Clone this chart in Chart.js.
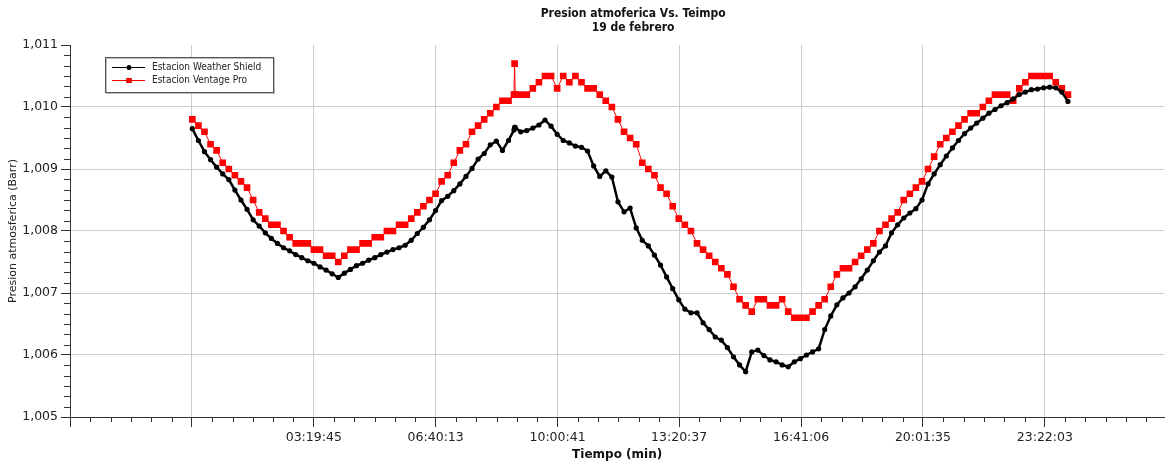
<!DOCTYPE html>
<html>
<head>
<meta charset="utf-8">
<title>Presion atmoferica Vs. Teimpo</title>
<script src="https://cdn.jsdelivr.net/npm/chart.js@4.4.1/dist/chart.umd.min.js"></script>
<style>
    html, body { margin: 0; padding: 0; background: #fff; }
    canvas { display: block; }
</style>
</head>
<body>
<canvas id="grafica" width="1169" height="467"></canvas>
<script>
// hora de cada lectura (cada 10 min, mas el pico de las 08:50)
var horas = [
    '00:00','00:10','00:20','00:30','00:40','00:50',
    '01:00','01:10','01:20','01:30','01:40','01:50',
    '02:00','02:10','02:20','02:30','02:40','02:50',
    '03:00','03:10','03:20','03:30','03:40','03:50',
    '04:00','04:10','04:20','04:30','04:40','04:50',
    '05:00','05:10','05:20','05:30','05:40','05:50',
    '06:00','06:10','06:20','06:30','06:40','06:50',
    '07:00','07:10','07:20','07:30','07:40','07:50',
    '08:00','08:10','08:20','08:30','08:40','08:49','08:50','08:51',
    '09:00','09:10','09:20','09:30','09:40','09:50',
    '10:00','10:10','10:20','10:30','10:40','10:50',
    '11:00','11:10','11:20','11:30','11:40','11:50',
    '12:00','12:10','12:20','12:30','12:40','12:50',
    '13:00','13:10','13:20','13:30','13:40','13:50',
    '14:00','14:10','14:20','14:30','14:40','14:50',
    '15:00','15:10','15:20','15:30','15:40','15:50',
    '16:00','16:10','16:20','16:30','16:40','16:50',
    '17:00','17:10','17:20','17:30','17:40','17:50',
    '18:00','18:10','18:20','18:30','18:40','18:50',
    '19:00','19:10','19:20','19:30','19:40','19:50',
    '20:00','20:10','20:20','20:30','20:40','20:50',
    '21:00','21:10','21:20','21:30','21:40','21:50',
    '22:00','22:10','22:20','22:30','22:40','22:50',
    '23:00','23:10','23:20','23:30','23:40','23:50',
    '24:00'
];

var weatherShield = [
    1.00965, 1.00946, 1.00928, 1.00915, 1.00903, 1.00892,
    1.00883, 1.00866, 1.00850, 1.00835, 1.00818, 1.00808,
    1.00797, 1.00788, 1.00780, 1.00773, 1.00768, 1.00762,
    1.00757, 1.00752, 1.00748, 1.00742, 1.00737, 1.00731,
    1.00725, 1.00732, 1.00738, 1.00744, 1.00748, 1.00753,
    1.00757, 1.00762, 1.00766, 1.00770, 1.00773, 1.00777,
    1.00785, 1.00796, 1.00806, 1.00818, 1.00833, 1.00849,
    1.00856, 1.00865, 1.00876, 1.00888, 1.00901, 1.00916,
    1.00925, 1.00939, 1.00945, 1.00930, 1.00946, 1.00963, 1.00967, 1.00967,
    1.00960, 1.00962, 1.00966, 1.00971, 1.00979, 1.00969,
    1.00956, 1.00946, 1.00942, 1.00937, 1.00935, 1.00929,
    1.00905, 1.00888, 1.00897, 1.00887, 1.00847, 1.00831,
    1.00837, 1.00805, 1.00785, 1.00776, 1.00761, 1.00745,
    1.00726, 1.00707, 1.00689, 1.00674, 1.00668, 1.00668,
    1.00652, 1.00641, 1.00629, 1.00624, 1.00612, 1.00597,
    1.00584, 1.00573, 1.00605, 1.00608, 1.00599, 1.00592,
    1.00589, 1.00584, 1.00581, 1.00589, 1.00594, 1.00600,
    1.00605, 1.00610, 1.00641, 1.00663, 1.00681, 1.00692,
    1.00700, 1.00710, 1.00723, 1.00737, 1.00752, 1.00766,
    1.00776, 1.00797, 1.00810, 1.00821, 1.00829, 1.00836,
    1.00850, 1.00876, 1.00892, 1.00907, 1.00921, 1.00934,
    1.00946, 1.00957, 1.00966, 1.00974, 1.00982, 1.00990,
    1.00996, 1.01002, 1.01007, 1.01013, 1.01020, 1.01024,
    1.01028, 1.01029, 1.01031, 1.01032, 1.01031, 1.01024,
    1.01009
];

var ventagePro = [
    1.0098, 1.0097, 1.0096, 1.0094, 1.0093, 1.0091,
    1.0090, 1.0089, 1.0088, 1.0087, 1.0085, 1.0083,
    1.0082, 1.0081, 1.0081, 1.0080, 1.0079, 1.0078,
    1.0078, 1.0078, 1.0077, 1.0077, 1.0076, 1.0076,
    1.0075, 1.0076, 1.0077, 1.0077, 1.0078, 1.0078,
    1.0079, 1.0079, 1.0080, 1.0080, 1.0081, 1.0081,
    1.0082, 1.0083, 1.0084, 1.0085, 1.0086, 1.0088,
    1.0089, 1.0091, 1.0093, 1.0094, 1.0096, 1.0097,
    1.0098, 1.0099, 1.0100, 1.0101, 1.0101, 1.0102, 1.0107, 1.0102,
    1.0102, 1.0102, 1.0103, 1.0104, 1.0105, 1.0105,
    1.0103, 1.0105, 1.0104, 1.0105, 1.0104, 1.0103,
    1.0103, 1.0102, 1.0101, 1.0100, 1.0098, 1.0096,
    1.0095, 1.0094, 1.0091, 1.0090, 1.0089, 1.0087,
    1.0086, 1.0084, 1.0082, 1.0081, 1.0080, 1.0078,
    1.0077, 1.0076, 1.0075, 1.0074, 1.0073, 1.0071,
    1.0069, 1.0068, 1.0067, 1.0069, 1.0069, 1.0068,
    1.0068, 1.0069, 1.0067, 1.0066, 1.0066, 1.0066,
    1.0067, 1.0068, 1.0069, 1.0071, 1.0073, 1.0074,
    1.0074, 1.0075, 1.0076, 1.0077, 1.0078, 1.0080,
    1.0081, 1.0082, 1.0083, 1.0085, 1.0086, 1.0087,
    1.0088, 1.0090, 1.0092, 1.0094, 1.0095, 1.0096,
    1.0097, 1.0098, 1.0099, 1.0099, 1.0100, 1.0101,
    1.0102, 1.0102, 1.0102, 1.0101, 1.0103, 1.0104,
    1.0105, 1.0105, 1.0105, 1.0105, 1.0104, 1.0103,
    1.0102
];

var etiquetasTiempo = ['03:19:45', '06:40:13', '10:00:41', '13:20:37', '16:41:06', '20:01:35', '23:22:03'];
var titulo = ['Presion atmoferica Vs. Teimpo', '19 de febrero'];

var fuente = "'DejaVu Sans', sans-serif";
var fuenteEstrecha = "'DejaVu Sans Condensed', 'Liberation Sans Narrow', 'DejaVu Sans', sans-serif";

function aSegundos(h) {
    var p = h.split(':');
    return (+p[0]) * 3600 + (+p[1]) * 60 + (p[2] ? +p[2] : 0);
}

function dosCifras(n) {
    return (n < 10 ? '0' : '') + n;
}

function aHora(s) {
    s = Math.round(s);
    return dosCifras(Math.floor(s / 3600)) + ':' + dosCifras(Math.floor(s % 3600 / 60)) + ':' + dosCifras(s % 60);
}

function serie(valores) {
    var puntos = [];
    for (var i = 0; i < horas.length; i++) {
        puntos.push({ x: aSegundos(horas[i]), y: valores[i] });
    }
    return puntos;
}

// marcas principales del eje x: las etiquetadas y dos mas hacia la izquierda sin texto
var marcas = etiquetasTiempo.map(aSegundos);
var paso = marcas[1] - marcas[0];
marcas.unshift(marcas[0] - 2 * paso, marcas[0] - paso);
var xMin = marcas[0];
var xMax = marcas[marcas.length - 1] + paso * 0.98;

var yMin = 1.005, yMax = 1.011, yPaso = 0.001;

var marcasMenores = {
    id: 'marcasMenores',
    afterDraw: function (chart) {
        var ctx = chart.ctx;
        var ex = chart.scales.x;
        var ey = chart.scales.y;
        ctx.save();
        ctx.strokeStyle = '#333';
        ctx.lineWidth = 1;
        ctx.beginPath();
        for (var k = 0; k < marcas.length; k++) {
            var ini = marcas[k];
            var fin = k < marcas.length - 1 ? marcas[k + 1] : ini + paso;
            for (var j = 1; j < 6; j++) {
                var v = ini + (fin - ini) * j / 6;
                if (v > xMax) break;
                var px = Math.round(ex.getPixelForValue(v)) + 0.5;
                ctx.moveTo(px, ex.top);
                ctx.lineTo(px, ex.top + 5);
            }
        }
        for (var m = 0; m < 6; m++) {
            for (var n = 1; n < 6; n++) {
                var py = Math.round(ey.getPixelForValue(yMin + yPaso * (m + n / 6))) + 0.5;
                ctx.moveTo(ey.right - 6, py);
                ctx.lineTo(ey.right, py);
            }
        }
        ctx.stroke();
        ctx.restore();
    }
};

var encabezado = {
    id: 'encabezado',
    afterDraw: function (chart) {
        var ctx = chart.ctx;
        var cx = (chart.chartArea.left + chart.chartArea.right) / 2 + 16;
        ctx.save();
        ctx.fillStyle = '#111';
        ctx.font = 'bold 12px ' + fuenteEstrecha;
        ctx.textAlign = 'center';
        ctx.textBaseline = 'middle';
        for (var i = 0; i < titulo.length; i++) {
            ctx.fillText(titulo[i], cx, 14 + i * 13.5);
        }
        ctx.restore();
    }
};

var leyenda = {
    id: 'leyenda',
    afterDraw: function (chart) {
        var ctx = chart.ctx;
        var x0 = chart.chartArea.left + 35;
        var y0 = chart.chartArea.top + 12;
        var ancho = 168, alto = 35;
        ctx.save();
        ctx.fillStyle = '#fff';
        ctx.fillRect(x0, y0, ancho, alto);
        ctx.strokeStyle = '#bbb';
        ctx.strokeRect(x0 + 1.5, y0 + 1.5, ancho, alto);
        ctx.strokeStyle = '#555';
        ctx.strokeRect(x0 + 0.5, y0 + 0.5, ancho, alto);
        ctx.font = '10px ' + fuenteEstrecha;
        ctx.textBaseline = 'middle';
        chart.data.datasets.forEach(function (ds, i) {
            var y = Math.round(y0 + 10 + i * 13) + 0.5;
            ctx.strokeStyle = ds.borderColor;
            ctx.lineWidth = 1;
            ctx.beginPath();
            ctx.moveTo(x0 + 7, y);
            ctx.lineTo(x0 + 40, y);
            ctx.stroke();
            Chart.helpers.drawPoint(ctx, {
                pointStyle: ds.pointStyle,
                radius: ds.pointStyle === 'rect' ? 3.6 : 2.5,
                rotation: 0,
                borderWidth: 0
            }, x0 + 24, y);
            ctx.fillStyle = ds.backgroundColor;
            ctx.fill();
            ctx.fillStyle = '#222';
            ctx.fillText(ds.label, x0 + 47, y);
        });
        ctx.restore();
    }
};

new Chart(document.getElementById('grafica'), {
    type: 'line',
    data: {
        datasets: [{
            label: 'Estacion Weather Shield',
            data: serie(weatherShield),
            borderColor: '#000000',
            backgroundColor: '#000000',
            borderWidth: 2.5,
            pointStyle: 'circle',
            pointRadius: 2.6,
            pointBorderWidth: 0,
            tension: 0
        }, {
            label: 'Estacion Ventage Pro',
            data: serie(ventagePro),
            borderColor: '#ff0000',
            backgroundColor: '#ff0000',
            borderWidth: 1,
            pointStyle: 'rect',
            pointRadius: 4.7,
            pointBorderWidth: 0,
            tension: 0
        }]
    },
    options: {
        responsive: false,
        animation: false,
        events: [],
        layout: { padding: { top: 45, right: 3, left: 0, bottom: 0 } },
        plugins: {
            legend: { display: false },
            title: { display: false },
            tooltip: { enabled: false }
        },
        scales: {
            x: {
                type: 'linear',
                min: xMin,
                max: xMax,
                afterBuildTicks: function (scale) {
                    scale.ticks = marcas.map(function (v) { return { value: v }; });
                },
                afterFit: function (scale) { scale.height = 50; },
                border: { color: '#333', width: 1 },
                grid: {
                    color: function (c) { return c.index === 0 ? 'rgba(0,0,0,0)' : '#cccccc'; },
                    tickColor: '#333',
                    tickLength: 10,
                    lineWidth: 1
                },
                ticks: {
                    autoSkip: false,
                    maxRotation: 0,
                    padding: 3,
                    color: '#222',
                    font: { family: fuente, size: 12.5 },
                    callback: function (v) { return v < 0 ? '' : aHora(v); }
                },
                title: {
                    display: true,
                    text: 'Tiempo (min)',
                    color: '#111',
                    font: { family: fuente, size: 12, weight: 'bold' },
                    padding: { top: 0, bottom: 5 }
                }
            },
            y: {
                min: yMin,
                max: yMax,
                afterBuildTicks: function (scale) {
                    var t = [];
                    for (var i = 0; i <= 6; i++) t.push({ value: +(yMin + i * yPaso).toFixed(3) });
                    scale.ticks = t;
                },
                afterFit: function (scale) { scale.width = 70; },
                border: { color: '#333', width: 1 },
                grid: {
                    color: function (c) { return c.index === 6 ? 'rgba(0,0,0,0)' : '#cccccc'; },
                    tickColor: '#333',
                    tickLength: 9,
                    lineWidth: 1
                },
                ticks: {
                    padding: 3,
                    color: '#222',
                    font: { family: fuente, size: 12.5 },
                    callback: function (v) { return v.toFixed(3).replace('.', ','); }
                },
                title: {
                    display: true,
                    text: 'Presion atmosferica (Barr)',
                    color: '#222',
                    font: { family: fuente, size: 11 },
                    padding: { top: 7, bottom: 0 }
                }
            }
        }
    },
    plugins: [marcasMenores, encabezado, leyenda]
});
</script>
</body>
</html>
